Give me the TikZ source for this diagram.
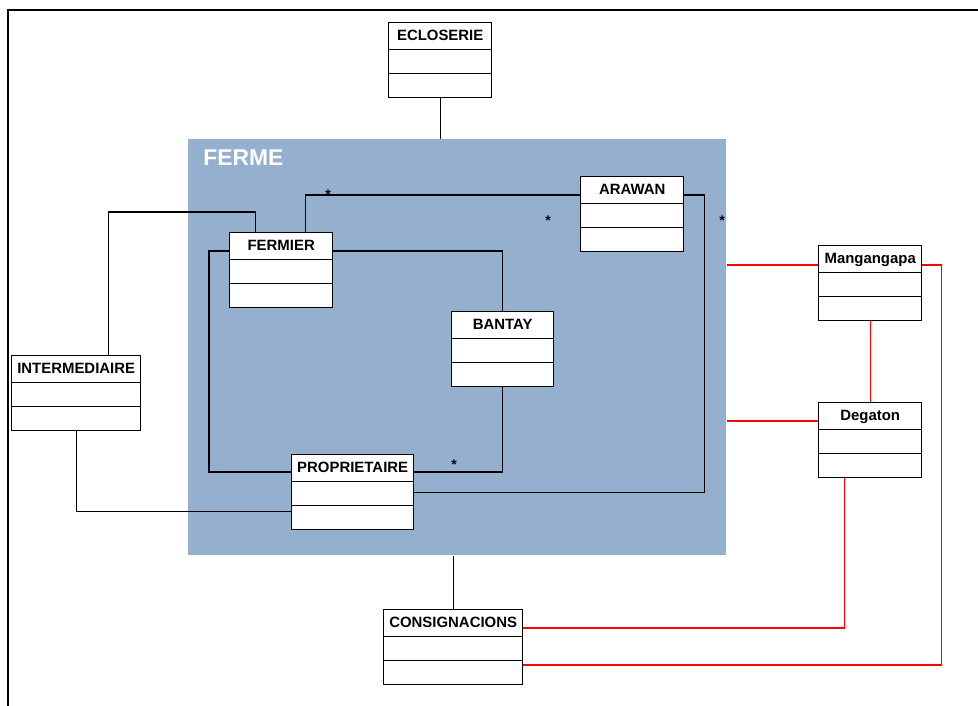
\documentclass[tikz,border=0pt]{standalone}
\usepackage{fontspec}
\setmainfont{Liberation Sans}
\usetikzlibrary{calc,positioning,shapes.multipart}
\definecolor{fermebleu}{RGB}{149,175,207}
\begin{document}
\begin{tikzpicture}[x=0.02cm,y=-0.02cm,
every node/.style={font=\fontsize{8.5}{10}\selectfont\bfseries},
classe/.style={rectangle split,rectangle split parts=3,draw,line width=0.8pt,fill=white,
  anchor=north west,inner ysep=0pt,inner xsep=2pt,minimum width=2.06cm,
  text height=0.34cm,text depth=0.17cm,
  rectangle split empty part height=0.31cm,rectangle split empty part depth=0.14cm},
lien/.style={line width=0.6pt},
rouge/.style={line width=0.7pt,red},
etoile/.style={inner sep=0pt,font=\fontsize{8}{9}\selectfont\bfseries}]
\useasboundingbox (0,0) rectangle (978,706);
\draw[line width=1.2pt] (8,706) -- (8,10) -- (978,10);
\node[fill=fermebleu,minimum width=10.76cm,minimum height=8.32cm,inner sep=0pt,anchor=north west] (FERME) at (188,139) {};
\node[white,font=\fontsize{13}{15}\selectfont\bfseries,anchor=base west,inner sep=0pt] (titreFERME) at (203,166) {FERME};
\node[classe] (ECLOSERIE) at (388,22) {ECLOSERIE\nodepart{two}\nodepart{three}};
\node[classe] (ARAWAN) at (580,176) {ARAWAN\nodepart{two}\nodepart{three}};
\node[classe] (FERMIER) at (229,232) {FERMIER\nodepart{two}\nodepart{three}};
\node[classe,minimum width=2.04cm] (BANTAY) at (451,311) {BANTAY\nodepart{two}\nodepart{three}};
\node[classe,minimum width=2.44cm] (PROPRIETAIRE) at (291,454) {PROPRIETAIRE\nodepart{two}\nodepart{three}};
\node[classe,minimum width=2.58cm] (INTERMEDIAIRE) at (11,355) {INTERMEDIAIRE\nodepart{two}\nodepart{three}};
\node[classe] (Mangangapa) at (818,245) {Mangangapa\nodepart{two}\nodepart{three}};
\node[classe] (Degaton) at (818,402) {Degaton\nodepart{two}\nodepart{three}};
\node[classe,minimum width=2.78cm] (CONSIGNACIONS) at (383,609) {CONSIGNACIONS\nodepart{two}\nodepart{three}};
\draw[lien] (ECLOSERIE.south) -- (ECLOSERIE.south |- FERME.north);
\draw[lien] (CONSIGNACIONS.north) -- (CONSIGNACIONS.north |- FERME.south);
\draw[lien] ($(FERMIER.north)+(24.5,0)$) |- ($(ARAWAN.north west)+(0,19)$);
\draw[lien] ($(ARAWAN.north east)+(0,19)$) -| ($(PROPRIETAIRE.east)+(290,0)$) -- (PROPRIETAIRE.east);
\draw[lien] ($(FERMIER.north west)+(0,19)$) -- ++(-20,0) |- ($(PROPRIETAIRE.north west)+(0,18)$);
\draw[lien] ($(FERMIER.north east)+(0,19)$) -| (BANTAY.north);
\draw[lien] (BANTAY.south) |- ($(PROPRIETAIRE.north east)+(0,18)$);
\draw[lien] ($(INTERMEDIAIRE.north)+(32.5,0)$) |- ($(FERMIER.north)+(-25.5,-20)$) -- ($(FERMIER.north)+(-25.5,0)$);
\draw[lien] (INTERMEDIAIRE.south) |- ($(PROPRIETAIRE.south west)+(0,-19)$);
\draw[rouge] ($(Mangangapa.north west)+(0,20)$) coordinate (mw) -- (mw -| FERME.east);
\draw[rouge] ($(Degaton.north west)+(0,19)$) coordinate (dw) -- (dw -| FERME.east);
\draw[rouge] (Mangangapa.south) -- (Degaton.north);
\draw[rouge] ($(Mangangapa.north east)+(0,20)$) -| ($(CONSIGNACIONS.south east)+(418,-20)$) -- ($(CONSIGNACIONS.south east)+(0,-20)$);
\draw[rouge] ($(Degaton.south)+(-25.5,0)$) |- ($(CONSIGNACIONS.north east)+(0,19)$);
\node[etoile] (e1) at (328,195) {*};
\node[etoile] (e2) at (548,221) {*};
\node[etoile] (e3) at (722,221) {*};
\node[etoile] (e4) at (454,465) {*};
\end{tikzpicture}
\end{document}
